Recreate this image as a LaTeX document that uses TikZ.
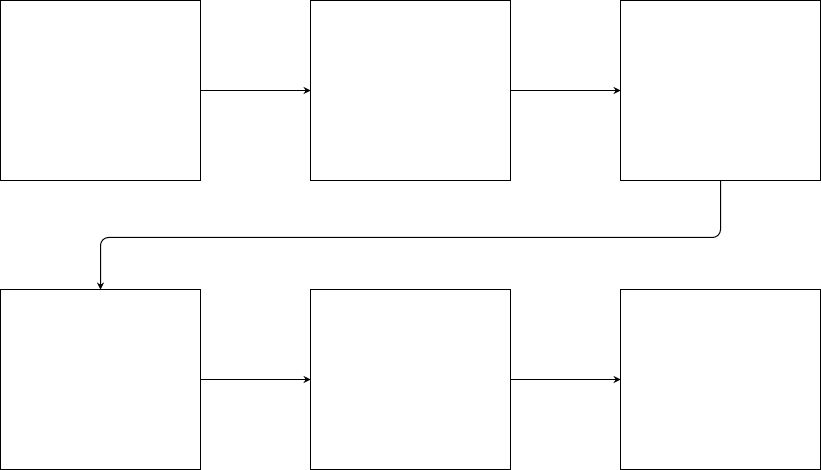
\documentclass[tikz,border=0pt]{standalone}
\usetikzlibrary{arrows.meta}
\begin{document}
\begin{tikzpicture}[x=1pt,y=-1pt,
  box/.style={draw=black,line width=1pt,minimum width=200pt,minimum height=180pt,inner sep=0pt,outer sep=0pt,anchor=north west},
  conn/.style={draw=black,line width=1pt,-{Stealth[length=7pt,width=7pt]}}]
\useasboundingbox (0,0) rectangle (821,470);
\node[box] (a) at (0.5,0.5) {};
\node[box] (b) at (310.5,0.5) {};
\node[box] (c) at (620.5,0.5) {};
\node[box] (d) at (0.5,289.5) {};
\node[box] (e) at (310.5,289.5) {};
\node[box] (f) at (620.5,289.5) {};
\draw[conn] (a.east) -- (b.west);
\draw[conn] (b.east) -- (c.west);
\draw[conn] (d.east) -- (e.west);
\draw[conn] (e.east) -- (f.west);
\draw[conn,rounded corners=8pt] (c.south) -- (c.south |- 0,237.5) -- (d.north |- 0,237.5) -- (d.north);
\end{tikzpicture}
\end{document}
